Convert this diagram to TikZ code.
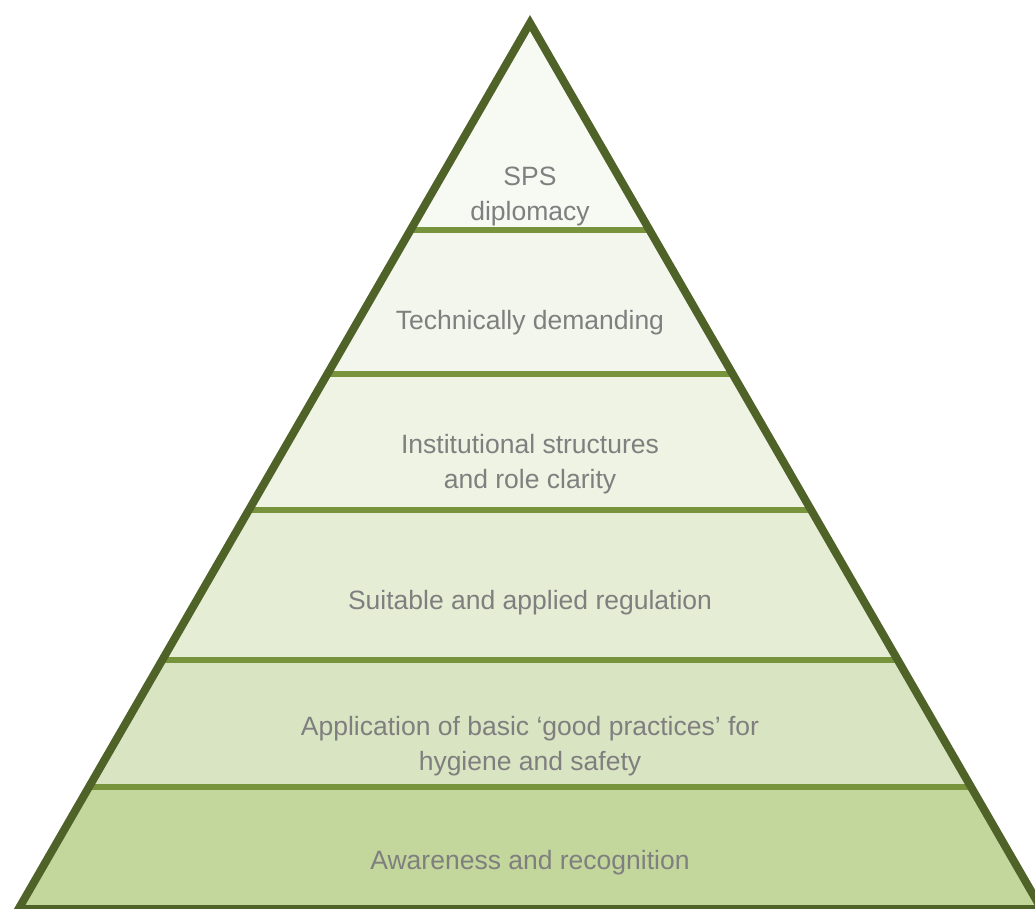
\documentclass[tikz,border=0pt]{standalone}
\usepackage{fontspec}
\setmainfont{Liberation Sans}
\usepackage{tikz}

\definecolor{rim}{HTML}{4F6228}
\definecolor{sep}{HTML}{77933C}
\definecolor{txt}{HTML}{7F7F7F}
\definecolor{bandA}{HTML}{F7F9F3}
\definecolor{bandB}{HTML}{F3F6EC}
\definecolor{bandC}{HTML}{EEF3E3}
\definecolor{bandD}{HTML}{E5EDD4}
\definecolor{bandE}{HTML}{D9E5C2}
\definecolor{bandF}{HTML}{C3D69B}

\begin{document}
\begin{tikzpicture}[x=1pt,y=-1pt]
      \tikzstyle{label}=[text=txt,align=center,font=\fontsize{26.5}{35}\selectfont]
      \tikzstyle{divider}=[draw=sep,line width=6pt]
      \tikzstyle{rimline}=[draw=rim,line width=8pt,line join=miter]

      \useasboundingbox (0,0) rectangle (1035,908);

      % bands, top to bottom
      \foreach \ya/\yb/\col in {23/230/bandA,230/374/bandB,374/510/bandC,
                                510/660/bandD,660/787/bandE,787/909/bandF}
        \fill[\col] ({530-(\ya-23)*0.57735},\ya) -- ({530+(\ya-23)*0.57735},\ya)
          -- ({530+(\yb-23)*0.57735},\yb) -- ({530-(\yb-23)*0.57735},\yb) -- cycle;

      \foreach \yy in {230,374,510,660,787}
        \draw[divider] ({530-(\yy-23)*0.57735},\yy) -- ({530+(\yy-23)*0.57735},\yy);

      \coordinate (apex) at (530,23);
      \coordinate (left) at (18.5,909);
      \coordinate (right) at (1041.5,909);
      \draw[rimline] (apex) -- (left) -- (right) -- cycle;

      \node[label] (sps) at (530,196) {SPS\\diplomacy};
      \node[label] (tech) at (530,323) {Technically demanding};
      \node[label] (inst) at (530,464) {Institutional structures\\and role clarity};
      \node[label] (reg) at (530,603) {Suitable and applied regulation};
      \node[label] (good) at (530,746) {Application of basic ‘good practices’ for\\hygiene and safety};
      \node[label] (aware) at (530,863) {Awareness and recognition};
\end{tikzpicture}
\end{document}
